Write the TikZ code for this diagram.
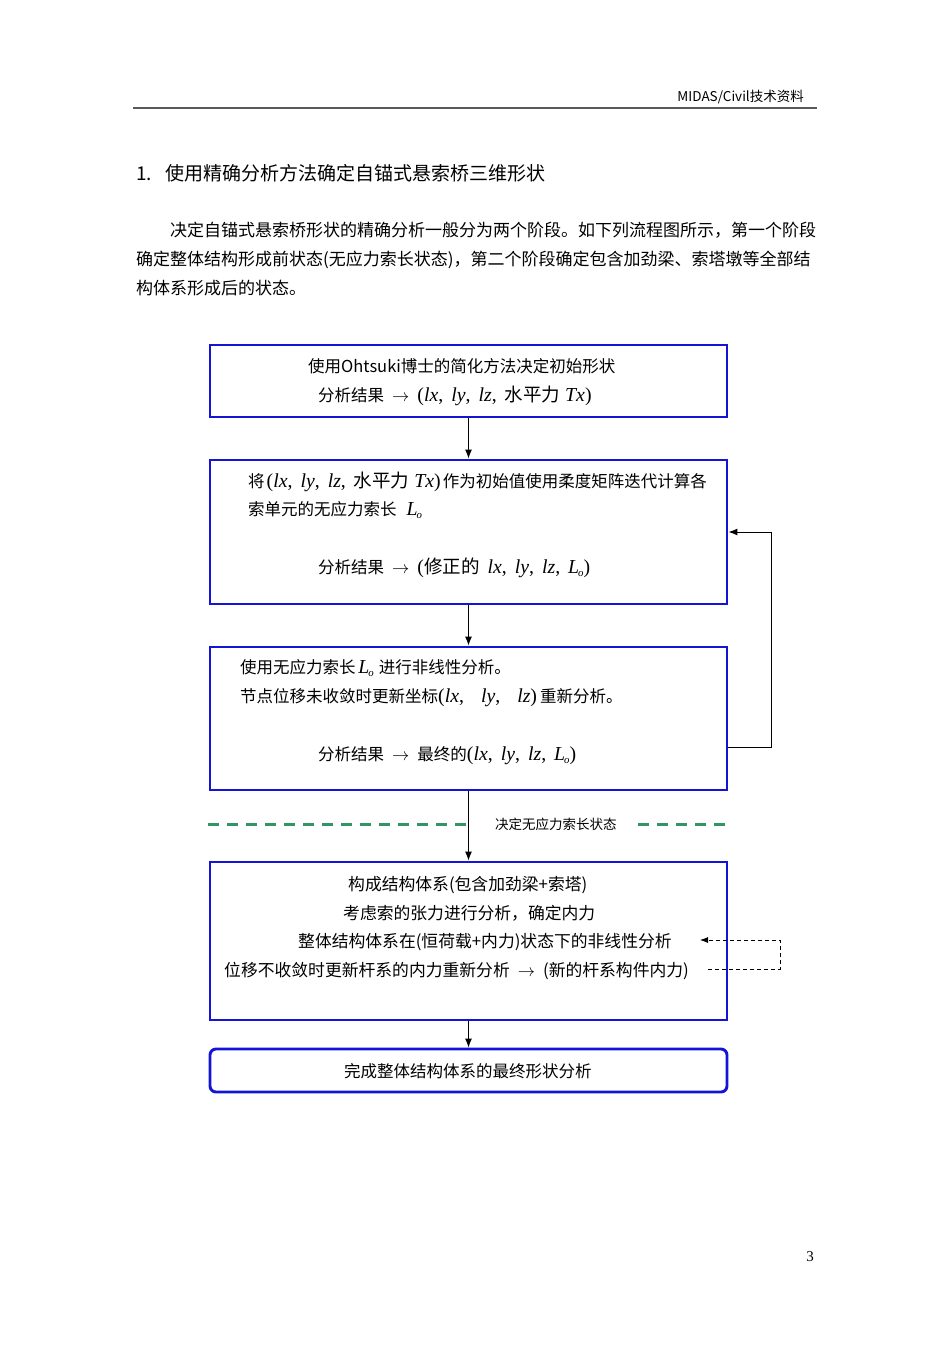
\documentclass[tikz,border=0pt]{standalone}
\usepackage{fontspec}
\setmainfont{Noto Sans CJK SC}
\newfontfamily\tnr[Scale=1.2]{Liberation Serif}
\newfontfamily\tnrp{Liberation Serif}
\usetikzlibrary{arrows.meta}
\definecolor{boxblue}{RGB}{20,20,215}
\definecolor{sepgreen}{RGB}{50,150,100}
\newcommand\ix[1]{{\tnr\itshape #1}}
\newcommand\tn[1]{{\tnr #1}}
\newcommand\cm{\tn{,}\hspace{8pt}}
\newcommand\bigcjk[1]{{\fontsize{18.5}{18.5}\selectfont #1}}
\newcommand\Lsub{{\tnr\itshape L\kern-0.05em\raisebox{-0.4ex}{\fontsize{9}{9}\selectfont o}}}
\newcommand\rar{\hspace{8pt}$\rightarrow$\hspace{8pt}}
\tikzset{
  box/.style={draw=boxblue, line width=2.9pt, minimum width=517pt, inner sep=0pt},
  txt/.style={inner sep=0pt, anchor=base west, font=\fontsize{16.5}{16.5}\selectfont},
  para/.style={inner sep=0pt, anchor=base west, font=\fontsize{17}{17}\selectfont},
  arr/.style={line width=1pt, -{Latex[length=9pt,width=7pt]}},
  darr/.style={line width=0.8pt, dash pattern=on 4pt off 3pt, -{Latex[length=8pt,width=6pt]}},
  sep/.style={sepgreen, line width=3pt, dash pattern=on 11pt off 8pt}
}
\begin{document}
\begin{tikzpicture}[x=1pt,y=-1pt]
\path[use as bounding box, fill=white] (0,0) rectangle (950,1345);
% header
\node[inner sep=0pt, anchor=base east, font=\fontsize{13.5}{13.5}\selectfont] (hdr) at (804,101) {MIDAS/Civil技术资料};
\draw[line width=1.6pt, gray!70!black] (133,108) -- (817,108);
% title
\node[inner sep=0pt, anchor=base west, font=\fontsize{19}{19}\selectfont] (title) at (136,180) {1.\hspace{13pt}使用精确分析方法确定自锚式悬索桥三维形状};
% paragraph
\node[para] (p1) at (170,236) {决定自锚式悬索桥形状的精确分析一般分为两个阶段。如下列流程图所示，第一个阶段};
\node[para] (p2) at (136,265) {确定整体结构形成前状态(无应力索长状态)，第二个阶段确定包含加劲梁、索塔墩等全部结};
\node[para] (p3) at (136,294) {构体系形成后的状态。};
% box 1
\node[box, minimum height=72pt] (b1) at (468.5,381) {};
\node[txt] (t11) at (308,372) {使用Ohtsuki博士的简化方法决定初始形状};
\node[txt] (t12) at (318,401) {分析结果\rar\tn{(}\ix{lx}\cm\ix{ly}\cm\ix{lz}\cm\bigcjk{水平力}\hspace{5pt}\ix{Tx}\tn{)}};
% box 2
\node[box, minimum height=144pt] (b2) at (468.5,532) {};
\node[txt] (t21) at (248,487) {将\hspace{2pt}\tn{(}\ix{lx}\cm\ix{ly}\cm\ix{lz}\cm\bigcjk{水平力}\hspace{5pt}\ix{Tx}\tn{)}\hspace{2pt}作为初始值使用柔度矩阵迭代计算各};
\node[txt] (t22) at (248,515) {索单元的无应力索长\hspace{10pt}\Lsub};
\node[txt] (t23) at (318,573) {分析结果\rar\tn{(}\bigcjk{修正的}\hspace{8pt}\ix{lx}\cm\ix{ly}\cm\ix{lz}\cm\Lsub\tn{)}};
% box 3
\node[box, minimum height=143pt] (b3) at (468.5,718.5) {};
\node[txt] (t31) at (240,673) {使用无应力索长\,\Lsub\hspace{5pt}进行非线性分析。};
\node[txt] (t32) at (240,702) {节点位移未收敛时更新坐标\tn{(}\ix{lx}\tn{,\hspace{17pt}}\ix{ly}\tn{,\hspace{17pt}}\ix{lz}\tn{)}\hspace{3pt}重新分析。};
\node[txt] (t33) at (318,760) {分析结果\rar 最终的\tn{(}\ix{lx}\cm\ix{ly}\cm\ix{lz}\cm\Lsub\tn{)}};
% separator
\draw[sep] (208,824) -- (473,824);
\draw[sep] (638,824) -- (727,824);
\node[inner sep=0pt, anchor=west, font=\fontsize{13.5}{13.5}\selectfont] (seplbl) at (495,824) {决定无应力索长状态};
% box 4
\node[box, minimum height=158pt] (b4) at (468.5,941) {};
\node[txt, font=\fontsize{16.8}{16.8}\selectfont] (t41) at (348,890) {构成结构体系(包含加劲梁+索塔)};
\node[txt, font=\fontsize{16.8}{16.8}\selectfont] (t42) at (343,919) {考虑索的张力进行分析，确定内力};
\node[txt, font=\fontsize{16.8}{16.8}\selectfont] (t43) at (298,947) {整体结构体系在(恒荷载+内力)状态下的非线性分析};
\node[txt, font=\fontsize{16.8}{16.8}\selectfont] (t44) at (224,976) {位移不收敛时更新杆系的内力重新分析\rar(新的杆系构件内力)};
% box 5
\node[box, minimum height=43pt, rounded corners=6pt] (b5) at (468.5,1070.5) {};
\node[txt, font=\fontsize{16.5}{16.5}\selectfont] (t51) at (344,1077) {完成整体结构体系的最终形状分析};
% connectors
\draw[arr] (b1.south) -- (b2.north);
\draw[arr] (b2.south) -- (b3.north);
\draw[arr] (b3.south) -- (b4.north);
\draw[arr] (b4.south) -- (b5.north);
\draw[arr] ([yshift=-28.5pt]b3.east) -- ++(43,0) |- (b2.east);
\coordinate (d1) at (708,969);
\coordinate (d2) at (700,940);
\draw[darr] (d1) -- (780,969) |- (d2);
% page number
\node[inner sep=0pt, anchor=base, font=\tnrp\fontsize{15}{15}\selectfont] (pg) at (810,1261) {3};
\end{tikzpicture}
\end{document}
